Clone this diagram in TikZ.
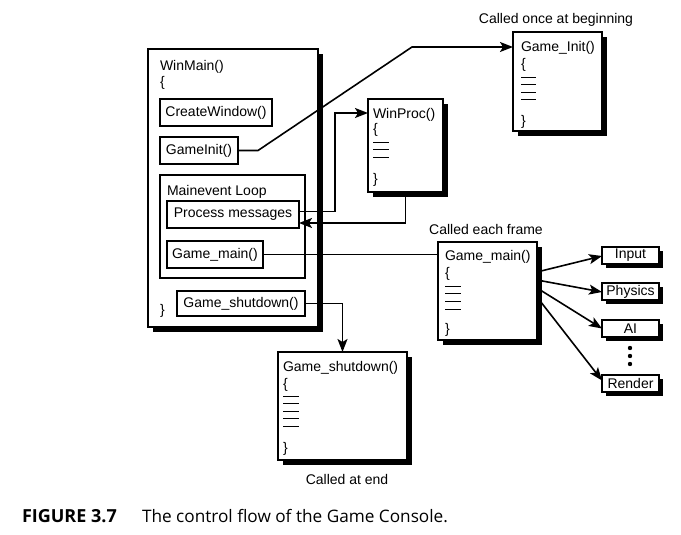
\documentclass[tikz,border=0pt]{standalone}
\usepackage{fontspec}
\setmainfont{Liberation Sans}
\newfontfamily\capfont{Open Sans}
\usetikzlibrary{arrows.meta,calc,shadows}
\begin{document}
\begin{tikzpicture}[x=1pt,y=-1pt,
  every node/.style={font=\fontsize{14}{16}\selectfont, inner sep=0pt, outer sep=0pt},
  bigbox/.style={draw, line width=1.5pt, fill=white, anchor=north west,
    drop shadow={shadow xshift=5pt, shadow yshift=-5pt, fill=black, opacity=1}},
  smallbox/.style={draw, line width=1.4pt, fill=white, anchor=north west},
  tagbox/.style={draw, line width=1.4pt, fill=white, anchor=north west,
    minimum width=57pt, minimum height=17pt,
    drop shadow={shadow xshift=4pt, shadow yshift=-4pt, fill=black, opacity=1}},
  code/.style={anchor=base west},
  label/.style={anchor=base},
  conn/.style={line width=1.6pt},
  arr/.style={conn, -{Stealth[length=13pt,width=10pt,inset=3pt]}},
  codeline/.style={line width=0.7pt},
]
\useasboundingbox (0,0) rectangle (681,535);

% WinMain
\node[bigbox, minimum width=170pt, minimum height=278pt] (winmain) at (148,49) {};
\node[code] (wmt) at (160,71) {WinMain()};
\node[code] (wmo) at (160,87) {\{};
\node[code] (wmc) at (160,314) {\}};
\node[smallbox, minimum width=112pt, minimum height=27pt] (cw) at (160,99) {CreateWindow()};
\node[smallbox, minimum width=78pt, minimum height=27pt] (gi) at (160,137) {GameInit()};
\node[smallbox, minimum width=145pt, minimum height=103pt] (loop) at (160,175) {};
\node[code] (loopt) at (167,195) {Mainevent Loop};
\node[smallbox, minimum width=132pt, minimum height=27pt] (pm) at (167,201) {Process messages};
\node[smallbox, minimum width=96pt, minimum height=27pt] (gms) at (167,241) {Game\_main()};
\node[smallbox, minimum width=128pt, minimum height=25pt] (gss) at (177,291) {Game\_shutdown()};

% WinProc
\node[bigbox, minimum width=75pt, minimum height=93pt] (wp) at (368,99) {};
\node[code] (wpt) at (373,118) {WinProc()};
\node[code] (wpo) at (373,134) {\{};
\node[code] (wpc) at (373,183) {\}};
\foreach \y in {142,149,157} \draw[codeline] (373,\y) -- ++(16,0);

% Game_Init
\node[label] (lginit) at (556,24) {Called once at beginning};
\node[bigbox, minimum width=89pt, minimum height=99pt] (ginit) at (513,32) {};
\node[code] (git) at (521,52) {Game\_Init()};
\node[code] (gio) at (521,69) {\{};
\node[code] (gic) at (521,125) {\}};
\foreach \y in {77,84,92,99} \draw[codeline] (521,\y) -- ++(15,0);

% Game_main
\node[label] (lgmb) at (486,234) {Called each frame};
\node[bigbox, minimum width=99pt, minimum height=98pt] (gmb) at (438,242) {};
\node[code] (gmbt) at (445,260) {Game\_main()};
\node[code] (gmbo) at (445,277) {\{};
\node[code] (gmbc) at (445,333) {\}};
\foreach \y in {286,293,301,309} \draw[codeline] (445,\y) -- ++(16,0);

% Game_shutdown
\node[bigbox, minimum width=129pt, minimum height=108pt] (gsb) at (278,352) {};
\node[code] (gsbt) at (283,371) {Game\_shutdown()};
\node[code] (gsbo) at (283,388) {\{};
\node[code] (gsbc) at (283,452) {\}};
\foreach \y in {396,403,411,418,426} \draw[codeline] (283,\y) -- ++(16,0);
\node[label] (lgsb) at (347,484) {Called at end};

% subsystem boxes
\node[tagbox] (input) at (602,247) {Input};
\node[tagbox] (phys) at (602,283) {Physics};
\node[tagbox] (ai) at (602,320) {AI};
\node[tagbox] (render) at (602,375) {Render};
\foreach \y in {348,356,364} \fill (630,\y) circle (2.2pt);

% connectors
\coordinate (k1) at (412,47);
\draw[arr] (gi.east) -- ++(20,0) -- (k1) -- (k1 -| ginit.west);
\draw[arr] ($(pm.east)+(0,-3)$) -- ++(36,0) |- ($(wp.north west)+(0,14)$);
\draw[arr] (wp.south) |- ($(pm.east)+(0,8.5)$);
\draw[conn] (gms.east) -- (gms.east -| gmb.west);
\draw[arr] (gss.east) -| (gsb.north);
\draw[arr] ($(gmb.north east)+(0,30)$) -- ($(input.west)+(0,0.5)$);
\draw[arr] ($(gmb.north east)+(0,38)$) -- ($(phys.west)+(0,0.5)$);
\draw[arr] ($(gmb.north east)+(0,46)$) -- (ai.west);
\draw[arr] ($(gmb.north east)+(0,55)$) -- ($(render.west)+(0,-3)$);

% caption
\node[anchor=base west, font=\capfont\bfseries\fontsize{18}{21}\selectfont] (capnum) at (22,522)
  {FIGURE 3.7};
\node[anchor=base west, font=\capfont\fontsize{17.2}{20}\selectfont] (captext) at (142,522)
  {The control flow of the Game Console.};
\end{tikzpicture}
\end{document}
